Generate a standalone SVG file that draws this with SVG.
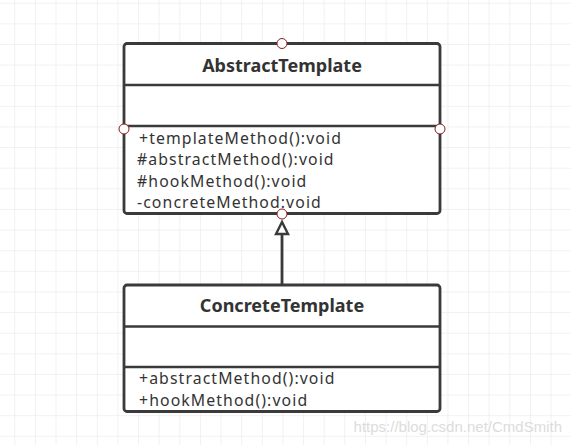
<svg xmlns="http://www.w3.org/2000/svg" width="571" height="445" viewBox="0 0 571 445">
<defs>
<pattern id="grid" x="14.3" y="2.7" width="20.625" height="20.625" patternUnits="userSpaceOnUse">
<path d="M0 0V20.625M0 0H20.625" fill="none" stroke="#ededed" stroke-width="1.5"/>
</pattern>
</defs>
<style>
.box{fill:#fff;stroke:#3a3a3a;stroke-width:2.8}
.div{stroke:#3a3a3a;stroke-width:2.6}
.title{font-family:"Noto Sans","Open Sans","Liberation Sans",sans-serif;font-weight:bold;font-size:18px;fill:#333;text-anchor:middle}
.m{font-family:"Noto Sans","Open Sans","Liberation Sans",sans-serif;font-size:15.8px;letter-spacing:1.1px;fill:#333}
.pt{fill:#fff;stroke:#8a1c1c;stroke-width:1}
.wm{font-family:"Liberation Sans",Arial,sans-serif;font-size:15px;fill:#dcdcdc}
</style>
<rect width="571" height="445" fill="#fff"/>
<rect width="571" height="445" fill="url(#grid)"/>
<g id="connectors">
<line x1="282" y1="234" x2="282" y2="285" stroke="#3a3a3a" stroke-width="2.8"/>
<polygon points="282,222 276,234 288,234" fill="#fff" stroke="#3a3a3a" stroke-width="2.4" stroke-linejoin="miter"/>
</g>
<g id="AbstractTemplate">
<rect class="box" x="124" y="43.5" width="316" height="170" rx="3"/>
<line class="div" x1="124" y1="85" x2="440" y2="85"/>
<line class="div" x1="124" y1="126" x2="440" y2="126"/>
<text class="title" x="282" y="72">AbstractTemplate</text>
<text class="m" x="139" y="143.5">+templateMethod():void</text>
<text class="m" x="137" y="165">#abstractMethod():void</text>
<text class="m" x="137" y="186.7">#hookMethod():void</text>
<text class="m" x="137" y="208.3">-concreteMethod:void</text>
<circle class="pt" cx="282" cy="43.5" r="5"/>
<circle class="pt" cx="124" cy="129" r="5"/>
<circle class="pt" cx="440" cy="129" r="5"/>
<circle class="pt" cx="282" cy="214" r="5"/>
</g>
<g id="ConcreteTemplate">
<rect class="box" x="124" y="285" width="316" height="126.5" rx="3"/>
<line class="div" x1="124" y1="326.5" x2="440" y2="326.5"/>
<line class="div" x1="124" y1="367" x2="440" y2="367"/>
<text class="title" x="282" y="312">ConcreteTemplate</text>
<text class="m" x="139" y="384">+abstractMethod():void</text>
<text class="m" x="139" y="406">+hookMethod():void</text>
</g>
<text class="wm" x="562" y="432" text-anchor="end">https://blog.csdn.net/CmdSmith</text>
</svg>
